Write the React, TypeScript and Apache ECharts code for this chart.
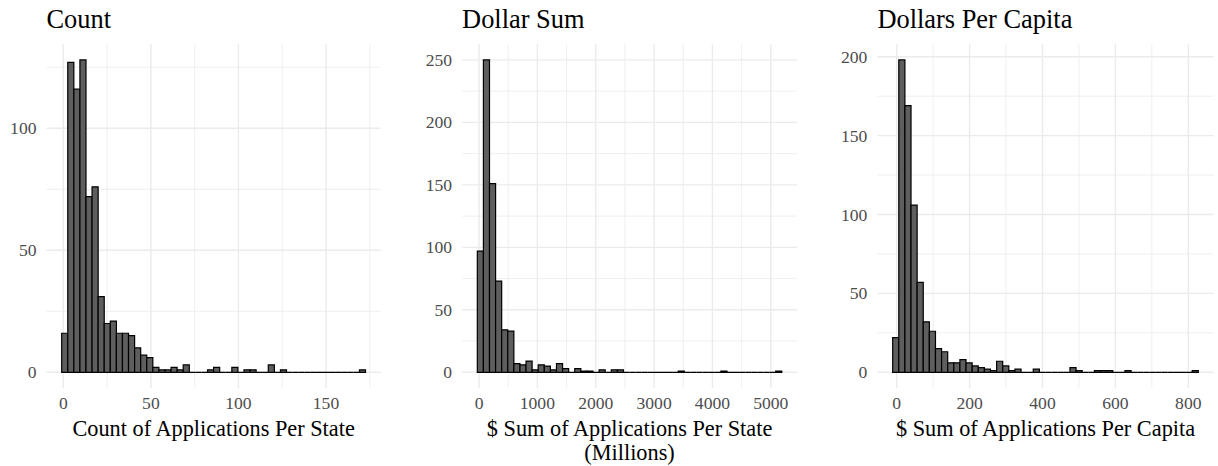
import React, { useEffect, useRef } from "react";
import * as echarts from "echarts";

const FONT = "Liberation Serif, Times New Roman, Times, serif";

const panelTitles = ["Count", "Dollar Sum", "Dollars Per Capita"];
const xTitles = [
  "Count of Applications Per State",
  "$ Sum of Applications Per State\n(Millions)",
  "$ Sum of Applications Per Capita",
];

// histogram counts (50 bins each)
const countBins = [
  16, 127, 116, 128, 72, 76, 31, 20, 21, 16,
  16, 15, 10, 7, 6, 2, 1, 1, 2, 1,
  3, 0, 0, 0, 1, 2, 0, 0, 2, 0,
  1, 1, 0, 0, 3, 0, 1, 0, 0, 0,
  0, 0, 0, 0, 0, 0, 0, 0, 0, 1,
];
const dollarBins = [
  97, 250, 151, 73, 34, 33, 7, 6, 9, 2,
  6, 5, 2, 7, 3, 0, 3, 1, 1, 0,
  2, 0, 2, 2, 0, 0, 0, 0, 0, 0,
  0, 0, 0, 1, 0, 0, 0, 0, 0, 0,
  1, 0, 0, 0, 0, 0, 0, 0, 0, 1,
];
const perCapitaBins = [
  22, 198, 169, 106, 57, 32, 26, 15, 13, 6,
  6, 8, 6, 4, 3, 2, 1, 7, 4, 1,
  2, 0, 0, 2, 0, 0, 0, 0, 0, 3,
  1, 0, 0, 1, 1, 1, 0, 0, 1, 0,
  0, 0, 0, 0, 0, 0, 0, 0, 0, 1,
];
const allBins = [countBins, dollarBins, perCapitaBins];
const binStart = [-0.93, -29.1, -11.0];
const binWidth = [3.47, 104.35, 16.77];

const xMajor = [
  [0, 50, 100, 150],
  [0, 1000, 2000, 3000, 4000, 5000],
  [0, 200, 400, 600, 800],
];
const xMinor = [
  [25, 75, 125, 175],
  [500, 1500, 2500, 3500, 4500],
  [100, 300, 500, 700],
];
const yMajor = [
  [0, 50, 100],
  [0, 50, 100, 150, 200, 250],
  [0, 50, 100, 150, 200],
];
const yMinor = [
  [25, 75, 125],
  [25, 75, 125, 175, 225],
  [25, 75, 125, 175],
];

const gridBoxes = [
  { left: 46.5, width: 334.2 },
  { left: 462.1, width: 334.9 },
  { left: 877.4, width: 336.2 },
];

export default function App() {
  const ref = useRef<HTMLDivElement>(null);
  useEffect(() => {
    document.body.style.margin = "0";
    const chart = echarts.init(ref.current!, null, { renderer: "svg" });

    const grids: any[] = [];
    const xAxes: any[] = [];
    const yAxes: any[] = [];
    const series: any[] = [];
    const titles: any[] = [];
    const fmt = (v: number) => String(v);

    allBins.forEach((bins, i) => {
      const lo = binStart[i];
      const hi = binStart[i] + binWidth[i] * bins.length;
      const xPad = (hi - lo) * 0.05;
      const yMax = Math.max(...bins);
      const yPad = yMax * 0.05;

      grids.push({
        left: gridBoxes[i].left,
        width: gridBoxes[i].width,
        top: 44.3,
        height: 343.6,
        containLabel: false,
        outerBoundsMode: "none",
      });
      titles.push({
        text: panelTitles[i],
        left: gridBoxes[i].left,
        top: 6,
        padding: 0,
        textStyle: { fontFamily: FONT, fontSize: 26.4, fontWeight: "normal", color: "#000" },
      });
      xAxes.push({
        type: "value",
        gridIndex: i,
        min: lo - xPad,
        max: hi + xPad,
        axisLine: { show: false },
        axisTick: { show: false },
        splitLine: { show: false },
        axisLabel: {
          customValues: xMajor[i],
          formatter: fmt,
          color: "#4D4D4D",
          fontSize: 17.6,
          fontFamily: FONT,
          margin: 6,
        },
        name: xTitles[i],
        nameLocation: "middle",
        nameGap: 29,
        nameMoveOverlap: false,
        nameTextStyle: {
          fontSize: 22.3,
          color: "#000",
          fontFamily: FONT,
          lineHeight: 24,
          verticalAlign: "top",
          align: "center",
        },
      });
      yAxes.push({
        type: "value",
        gridIndex: i,
        min: -yPad,
        max: yMax + yPad,
        axisLine: { show: false },
        axisTick: { show: false },
        splitLine: { show: false },
        axisLabel: {
          customValues: yMajor[i],
          formatter: fmt,
          color: "#4D4D4D",
          fontSize: 17.6,
          fontFamily: FONT,
          margin: 10,
        },
      });

      const gridData: number[][] = [];
      xMajor[i].forEach((v) => gridData.push([v, 1, 1]));
      xMinor[i].forEach((v) => gridData.push([v, 1, 0]));
      yMajor[i].forEach((v) => gridData.push([v, 0, 1]));
      yMinor[i].forEach((v) => gridData.push([v, 0, 0]));

      series.push({
        type: "custom",
        xAxisIndex: i,
        yAxisIndex: i,
        silent: true,
        z: 1,
        data: gridData,
        renderItem: (params: any, api: any) => {
          const cs = params.coordSys;
          const v = api.value(0);
          const isX = api.value(1);
          const major = api.value(2);
          let shape;
          if (isX) {
            const px = api.coord([v, 0])[0];
            shape = { x1: px, y1: cs.y, x2: px, y2: cs.y + cs.height };
          } else {
            const py = api.coord([lo, v])[1];
            shape = { x1: cs.x, y1: py, x2: cs.x + cs.width, y2: py };
          }
          return {
            type: "line",
            shape,
            style: { stroke: "#EBEBEB", lineWidth: major ? 1.4 : 0.8 },
          };
        },
      });

      const barData = bins.map((c, k) => [
        binStart[i] + binWidth[i] * k,
        binStart[i] + binWidth[i] * (k + 1),
        c,
      ]);
      series.push({
        type: "custom",
        xAxisIndex: i,
        yAxisIndex: i,
        silent: true,
        z: 2,
        encode: { x: [0, 1], y: 2 },
        data: barData,
        renderItem: (params: any, api: any) => {
          const p0 = api.coord([api.value(0), api.value(2)]);
          const p1 = api.coord([api.value(1), 0]);
          return {
            type: "rect",
            shape: { x: p0[0], y: p0[1], width: p1[0] - p0[0], height: p1[1] - p0[1] },
            style: { fill: "#5E5E5E", stroke: "#000", lineWidth: 1.2 },
          };
        },
      });
    });

    chart.setOption({
      animation: false,
      backgroundColor: "#fff",
      title: titles,
      grid: grids,
      xAxis: xAxes,
      yAxis: yAxes,
      series,
    });
    return () => chart.dispose();
  }, []);
  return <div ref={ref} style={{ width: 1218, height: 466 }} />;
}
